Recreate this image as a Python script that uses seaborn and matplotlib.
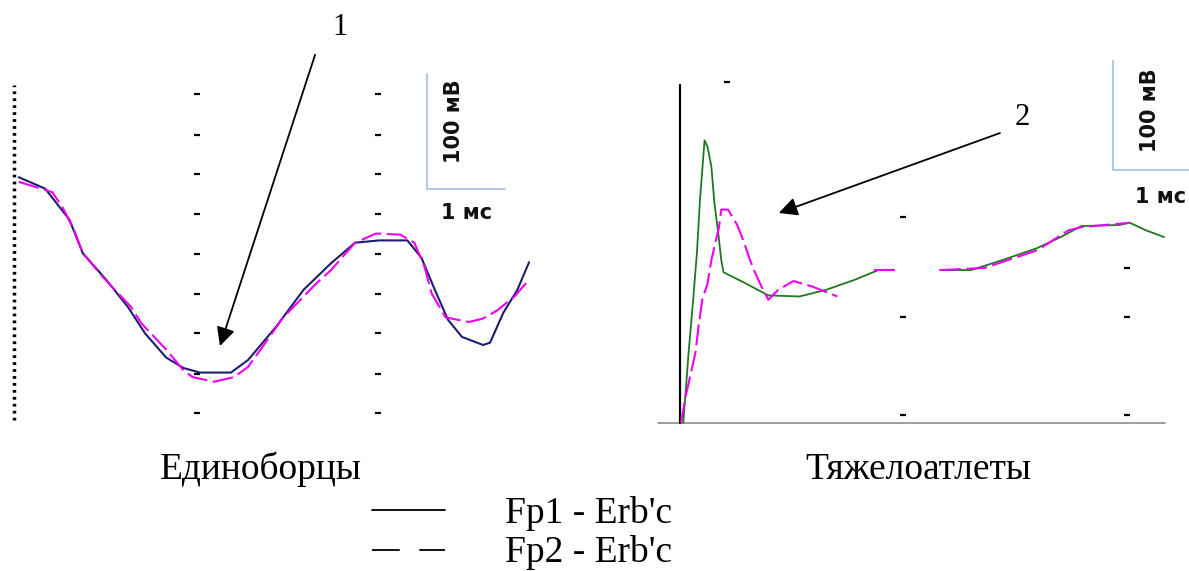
import numpy as np
import pandas as pd
import matplotlib
matplotlib.use("Agg")
import matplotlib.pyplot as plt
from matplotlib.lines import Line2D
import seaborn as sns

# Left panel (Единоборцы): time in ms, amplitude in mV
left_t_fp1 = [0.06, 0.40, 0.71, 0.88, 1.19, 1.46, 1.68, 1.95, 2.17, 2.38, 2.78, 3.00,
              3.36, 3.71, 4.06, 4.37, 4.68, 5.04, 5.22, 5.38, 5.56, 5.74, 6.01, 6.10,
              6.27, 6.45, 6.60]
left_u_fp1 = [67, 57, 30, 1, -23, -46, -69, -90, -99, -103, -103, -92,
              -63, -31, -8, 10, 12, 12, -3, -29, -57, -72, -79, -77,
              -51, -31, -7]
left_t_fp2 = [0.06, 0.49, 0.62, 0.77, 0.88, 1.14, 1.50, 1.63, 1.95, 2.17, 2.29, 2.56,
              2.82, 3.00, 3.18, 3.45, 3.88, 4.06, 4.37, 4.64, 4.95, 5.13, 5.26, 5.35,
              5.53, 5.83, 6.01, 6.19, 6.41, 6.59]
left_u_fp2 = [63, 54, 41, 21, 1, -20, -46, -60, -83, -101, -107, -111,
              -107, -98, -81, -55, -25, -14, 10, 18, 17, 10, -11, -34,
              -55, -59, -56, -49, -37, -23]

# Right panel (Тяжелоатлеты); NaN marks a break in the trace
right_t_fp1 = [0.04, 0.07, 0.11, 0.17, 0.22, 0.26, 0.30, 0.32, 0.36, 0.41, 0.45, 0.50,
               0.54, 0.57, 0.83, 1.16, 1.57, 1.92, 2.29, 2.61, np.nan, 3.42, 3.83, 4.24,
               4.70, 5.01, 5.28, 5.78, 5.92, 6.14, 6.37]
right_u_fp1 = [0, 27, 64, 112, 155, 203, 239, 257, 251, 233, 200, 173,
               148, 137, 128, 116, 115, 121, 130, 139, np.nan, 139, 139, 148,
               159, 169, 179, 180, 182, 175, 169]
right_t_fp2 = [0.01, 0.07, 0.13, 0.20, 0.24, 0.29, 0.36, 0.41, 0.45, 0.51, 0.54, 0.63,
               0.75, 0.83, 0.92, 0.97, 1.07, 1.16, 1.29, 1.49, 1.74, 2.07, np.nan,
               2.55, 2.88, np.nan, 3.42, 4.01, 4.70, 5.11, 5.28, 5.92]
right_u_fp2 = [0, 24, 42, 64, 87, 112, 127, 148, 160, 178, 194, 194,
               180, 166, 148, 139, 124, 112, 121, 129, 124, 115, np.nan,
               139, 139, np.nan, 139, 141, 157, 175, 178, 182]

# grid tick marks of the recorder screen
left_grid_t = [2.35, 4.67]
left_grid_u = [139, 104, 70, 35, 0, -35, -69, -104, -138]
right_grid_pts = [(0.62, 310), (2.93, 187), (2.93, 96), (2.93, 7),
                  (5.89, 141), (5.89, 96), (5.89, 7)]

series_labels = ["Fp1 - Erb'c", "Fp2 - Erb'c"]
group_labels = ["Единоборцы", "Тяжелоатлеты"]

NAVY = "#1e1e70"
MAGENTA = "#f000f0"
GREEN = "#1f7a1f"
SCALE = "#a9c4e3"
SERIF = "Liberation Serif"

sns.set_style("white")
plt.rcParams["lines.scale_dashes"] = False
plt.rcParams["text.color"] = "black"


def segments(t, u):
    """split a trace on NaN so gaps stay open"""
    df = pd.DataFrame({"t": t, "u": u})
    seg_id = df["t"].isna().cumsum()
    return [g.dropna() for _, g in df.groupby(seg_id) if len(g.dropna()) > 1]


def draw_trace(ax, t, u, color, dashed, lw=1.5):
    ls = (0, (15, 4)) if dashed else "-"
    for seg in segments(t, u):
        sns.lineplot(data=seg, x="t", y="u", ax=ax, color=color, lw=lw,
                     linestyle=ls, sort=False, estimator=None)


def scale_bar(ax, t0, u0, tx, ux, lx, ly):
    ax.plot([t0, t0], [u0, u0 + 100], color=SCALE, lw=1.3)
    ax.plot([t0, t0 + 1], [u0, u0], color=SCALE, lw=1.3)
    ax.text(lx, ly, "100 мВ", rotation=90, ha="center", va="center",
            fontsize=15, fontweight="bold", family="DejaVu Sans", color="#111111")
    ax.text(tx, ux, "1 мс", ha="center", va="center",
            fontsize=15, fontweight="bold", family="DejaVu Sans", color="#111111")


fig = plt.figure(figsize=(11.89, 5.71), dpi=100)

# ---- left panel
ax1 = fig.add_axes([0.0, 141 / 571, 540 / 1189, 370 / 571])
ax1.set_xlim(-0.18, 6.74)
ax1.set_ylim(-153, 169)
ax1.plot([0, 0], [-144, 147], color="black", lw=2.5, linestyle=(0, (2, 3)))
for gt in left_grid_t:
    ax1.scatter([gt] * len(left_grid_u), left_grid_u, marker="_", s=25,
                color="black", linewidths=1.6)
draw_trace(ax1, left_t_fp1, left_u_fp1, NAVY, False)
draw_trace(ax1, left_t_fp2, left_u_fp2, MAGENTA, True)
scale_bar(ax1, 5.29, 57, 5.80, 36, 5.64, 116)

# ---- right panel
ax2 = fig.add_axes([640 / 1189, 141 / 571, 549 / 1189, 370 / 571])
ax2.set_xlim(-0.53, 6.70)
ax2.set_ylim(-6.4, 330)
ax2.plot([-0.29, 6.38], [0, 0], color="#8c8c8c", lw=1.2)
ax2.plot([0, 0], [0, 307], color="black", lw=1.6)
gx, gy = zip(*right_grid_pts)
ax2.scatter(gx, gy, marker="_", s=25, color="black", linewidths=1.6)
draw_trace(ax2, right_t_fp1, right_u_fp1, GREEN, False, lw=1.3)
draw_trace(ax2, right_t_fp2, right_u_fp2, MAGENTA, True)
scale_bar(ax2, 5.70, 230, 6.33, 205, 6.18, 284)

for ax in (ax1, ax2):
    ax.set_axis_off()

# ---- annotations
fig.text(0.286, 0.951, "1", ha="center", va="center", fontsize=22, family=SERIF)
fig.text(0.860, 0.795, "2", ha="center", va="center", fontsize=22, family=SERIF)
arrow = dict(arrowstyle="-|>", color="black", lw=1.3, mutation_scale=28,
             shrinkA=0, shrinkB=0)
fig.add_artist(plt.Annotation("", xy=(0.185, 0.394), xytext=(0.265, 0.904),
                              xycoords="figure fraction", arrowprops=arrow))
fig.add_artist(plt.Annotation("", xy=(0.655, 0.627), xytext=(0.841, 0.767),
                              xycoords="figure fraction", arrowprops=arrow))

# ---- group captions
fig.text(0.219, 0.178, group_labels[0], ha="center", va="center",
         fontsize=27, family=SERIF)
fig.text(0.772, 0.178, group_labels[1], ha="center", va="center",
         fontsize=27, family=SERIF)

# ---- legend
fig.add_artist(Line2D([0.313, 0.374], [0.107, 0.107], color="black", lw=1.3))
fig.add_artist(Line2D([0.313, 0.374], [0.037, 0.037], color="black", lw=1.3,
                      linestyle=(0, (20, 14))))
fig.text(0.425, 0.100, series_labels[0], ha="left", va="center",
         fontsize=27, family=SERIF)
fig.text(0.425, 0.033, series_labels[1], ha="left", va="center",
         fontsize=27, family=SERIF)

fig.savefig("out.png", dpi=100, facecolor="white")
